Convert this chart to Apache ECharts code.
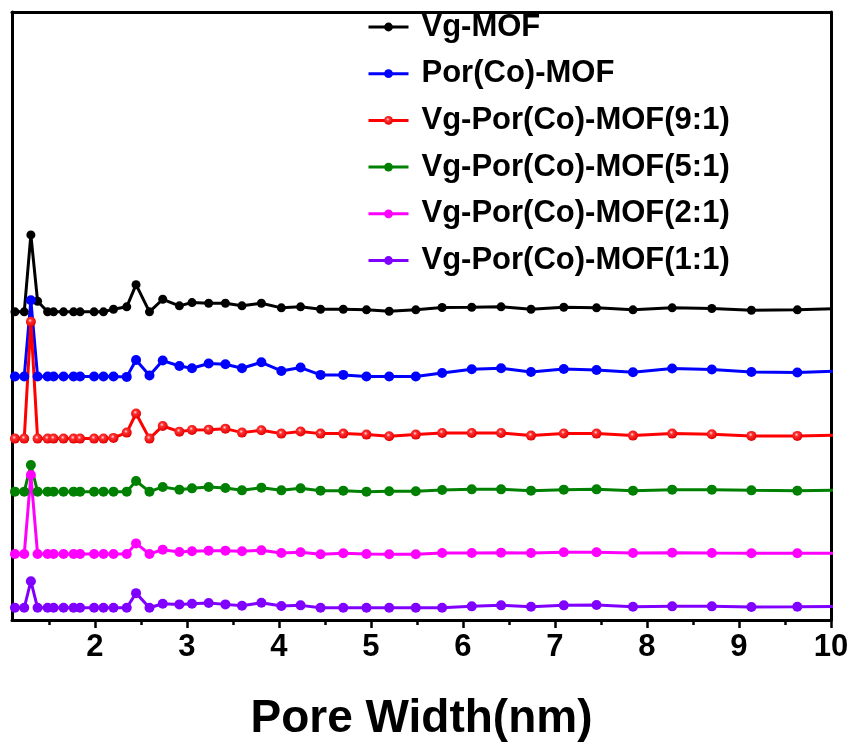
<!DOCTYPE html>
<html>
<head>
<meta charset="utf-8">
<script src="https://cdn.jsdelivr.net/npm/echarts@6/dist/echarts.min.js"></script>
<style>
html,body{margin:0;padding:0;background:#fff;}
#c{width:855px;height:747px;}
</style>
</head>
<body>
<div id="c"></div>
<script>
// Pore width (nm)
var poreWidth = [1.132,1.233,1.305,1.378,1.487,1.552,1.660,1.769,1.840,1.992,2.094,2.203,2.347,2.448,2.594,2.738,2.919,3.056,3.237,3.419,3.599,3.810,4.027,4.236,4.453,4.700,4.952,5.199,5.488,5.774,6.096,6.415,6.740,7.096,7.452,7.848,8.274,8.705,9.135,9.634,10.17];
// Offset (stacked) intensity, arbitrary units
var vgMOF = [309.7,309.7,387,320.3,309.7,309.7,309.7,309.7,309.7,309.7,309.7,312.3,314.7,337,309.7,322.3,315.7,319,318.3,318.3,315.7,318.3,313.7,314.7,312.3,312.3,311.7,310.3,311.7,314,314.3,314.7,312.3,314.3,313.7,311.7,313.7,313,311.3,311.7,313.2];
var porCoMOF = [244.7,244.7,321.3,244.7,244.7,244.7,244.7,244.7,244.7,244.7,244.7,244.7,244.3,261.3,245.7,260.7,255.3,253,257.7,257,253,259,250.3,253.7,246.3,246.3,244.7,244.7,244.7,248.3,252,253,249.3,252.3,251.3,249,252.7,251.7,249.3,248.7,250.6];
var mix91 = [182.3,182.3,299.7,182.3,182.3,182.3,182.3,182.3,182.3,182.3,182.3,183,188.3,207.5,182.3,195,189.3,191,191.3,192.3,188.3,190.7,187.3,189.5,187.3,187.3,186.3,184.7,186.3,188,188,188,185.3,187.5,187.3,185.3,187.3,186.7,185,185,186];
var mix51 = [129,129,155.7,129,129,129,129,129,129,129,129,129,129,139.7,129,133.7,131,132.3,133.7,132.7,130.3,133,130.3,132.3,130,130,129,129.3,129.3,130.7,131.3,131.3,130,131,131.3,130,131,131,130.3,130,130.4];
var mix21 = [66.3,66.3,145.7,66.3,66.3,66.3,66.3,66.3,66.3,66.3,66.3,66.3,66.3,77,66.3,70.7,68.3,69,69.7,69.7,69,70,67.3,68,66,67,66.3,66,66,67.3,67.3,67.7,67.3,68,68,67.3,67.7,67.3,67,67,67];
var mix11 = [12.3,12.3,39,12.3,12.3,12.3,12.3,12.3,12.3,12.3,12.3,12.3,12.3,27,12.3,16.3,15.7,16.3,17,15.7,14.3,17.3,14,14.7,12.3,12.3,12.3,12.3,12.3,12.3,13.7,14.7,13.3,14.7,15,13.3,13.7,13.7,13,13.3,13.7];
var seriesNames = ['Vg-MOF','Por(Co)-MOF','Vg-Por(Co)-MOF(9:1)','Vg-Por(Co)-MOF(5:1)','Vg-Por(Co)-MOF(2:1)','Vg-Por(Co)-MOF(1:1)'];
var majorTicks = [2,3,4,5,6,7,8,9,10];
var minorTicks = [1.5,2.5,3.5,4.5,5.5,6.5,7.5,8.5,9.5];

var FONT = '"Liberation Sans", Arial, sans-serif';
var allData = [vgMOF, porCoMOF, mix91, mix51, mix21, mix11];
var colors = ['#000000','#0000ff','#ff0000','#008000','#ff00ff','#8000ff'];
var sizes = [9,10,10,10,10,10];

function pairs(ys){ return poreWidth.map(function(x,i){ return [x, ys[i]]; }); }

var series = allData.map(function(d, i){
  var fill = colors[i];
  if (i === 2) {
    fill = {type:'radial', x:0.42, y:0.38, r:0.62, colorStops:[
      {offset:0, color:'#ffe0e0'},{offset:0.3, color:'#ff3030'},{offset:1, color:'#e00000'}]};
  }
  return {
    name: seriesNames[i],
    type: 'line',
    xAxisIndex: 0,
    yAxisIndex: 0,
    data: pairs(d),
    symbol: 'circle',
    symbolSize: sizes[i],
    showAllSymbol: true,
    clip: true,
    lineStyle: {color: colors[i], width: 3},
    itemStyle: {color: fill, borderWidth: 0},
    emphasis: {disabled: true},
    animation: false
  };
});

var chart = echarts.init(document.getElementById('c'), null, {renderer:'canvas'});
chart.setOption({
  backgroundColor: '#ffffff',
  animation: false,
  grid: {left: 12, right: 24, top: 12, bottom: 124, containLabel: false},
  legend: {
    orient: 'vertical',
    left: 362,
    top: 5,
    itemWidth: 40,
    itemHeight: 11,
    itemGap: 12.7,
    data: seriesNames,
    lineStyle: {width: 3},
    textStyle: {fontFamily: FONT, fontWeight: 'bold', fontSize: 31, color: '#000', lineHeight: 34, padding: [0,0,0,8]}
  },
  xAxis: [
    {
      type: 'value', position: 'bottom', min: 1.1, max: 10,
      axisLine: {show: true, onZero: false, lineStyle: {color: '#000', width: 3}},
      axisTick: {show: true, inside: false, length: 8, lineStyle: {color: '#000', width: 2.5}, customValues: majorTicks},
      axisLabel: {show: true, customValues: majorTicks, margin: 12, fontFamily: FONT, fontWeight: 'bold', fontSize: 31, color: '#000'},
      splitLine: {show: false},
      name: 'Pore Width(nm)', nameLocation: 'middle', nameGap: 76,
      nameTextStyle: {fontFamily: FONT, fontWeight: 'bold', fontSize: 46, color: '#000'}
    },
    {
      type: 'value', position: 'bottom', min: 1.1, max: 10,
      axisLine: {show: false},
      axisTick: {show: true, inside: false, length: 5, lineStyle: {color: '#000', width: 2.5}, customValues: minorTicks},
      axisLabel: {show: false},
      splitLine: {show: false}
    },
    {
      type: 'value', position: 'top', min: 1.1, max: 10,
      axisLine: {show: true, onZero: false, lineStyle: {color: '#000', width: 3}},
      axisTick: {show: false}, axisLabel: {show: false}, splitLine: {show: false}
    }
  ],
  yAxis: [
    {
      type: 'value', position: 'left', min: 0, max: 611,
      axisLine: {show: true, onZero: false, lineStyle: {color: '#000', width: 3}},
      axisTick: {show: false}, axisLabel: {show: false}, splitLine: {show: false}
    },
    {
      type: 'value', position: 'right', min: 0, max: 611,
      axisLine: {show: true, onZero: false, lineStyle: {color: '#000', width: 3}},
      axisTick: {show: false}, axisLabel: {show: false}, splitLine: {show: false}
    }
  ],
  series: series
});
</script>
</body>
</html>
